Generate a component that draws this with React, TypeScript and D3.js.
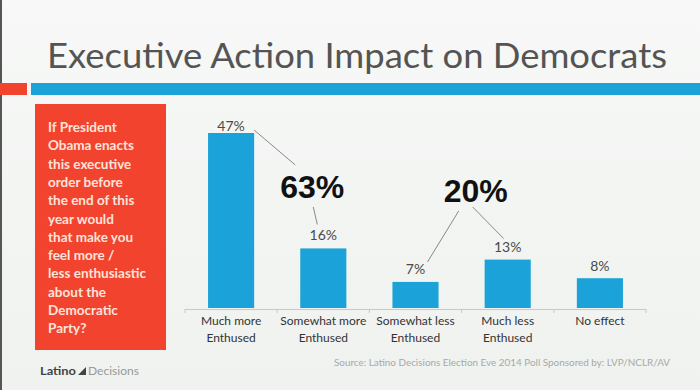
import React from "react";
import * as d3 from "d3";

const categories = [
  ["Much more", "Enthused"],
  ["Somewhat more", "Enthused"],
  ["Somewhat less", "Enthused"],
  ["Much less", "Enthused"],
  ["No effect", ""],
];
const values = [47, 16, 7, 13, 8];
const valueLabels = ["47%", "16%", "7%", "13%", "8%"];
const groupLabels = ["63%", "20%"];
const questionLines = [
  "If President",
  "Obama enacts",
  "this executive",
  "order before",
  "the end of this",
  "year would",
  "that make you",
  "feel more /",
  "less enthusiastic",
  "about the",
  "Democratic",
  "Party?",
];
const title = "Executive Action Impact on Democrats";
const source = "Source: Latino Decisions Election Eve 2014 Poll Sponsored by: LVP/NCLR/AV";

const W = 700;
const H = 390;
const BLUE = "#1ba2d8";
const RED = "#f2432f";
const FONT = "Lato, 'Open Sans', sans-serif";

export default function App() {
  const keys = categories.map((c, i) => String(i));
  const x = d3.scaleBand<string>().domain(keys).range([185, 646]).paddingInner(0.5).paddingOuter(0.25);
  const y = d3.scaleLinear().domain([0, 47]).range([308, 133]);
  const cx = (i: number) => (x(String(i)) as number) + x.bandwidth() / 2;
  const tickXs = d3.range(categories.length + 1).map((i) => 185 + i * x.step());
  const labelOffsets = [2, 8, 8, 8, 7];

  const g1x = cx(1) - 11;
  const g1y = 198;
  const g2x = cx(3) - 32;
  const g2y = 202;

  return (
    <svg width={W} height={H} style={{ position: "absolute", left: 0, top: 0, display: "block" }}>
      <defs>
        <linearGradient id="bg" x1="0" y1="0" x2="0" y2="1">
          <stop offset="0" stopColor="#f7f8f7" />
          <stop offset="1" stopColor="#eff2ef" />
        </linearGradient>
      </defs>
      <rect x={0} y={0} width={W} height={H} fill="url(#bg)" />
      <rect x={0} y={0} width={2} height={H} fill="#555" />

      <text x={47} y={68} fontFamily={FONT} fontSize={35} fill="#545454" textLength={620} lengthAdjust="spacingAndGlyphs">
        {title}
      </text>
      <rect x={0} y={83} width={27} height={12} fill={RED} />
      <rect x={31} y={83} width={W - 31} height={12} fill={BLUE} />

      <rect x={35} y={104} width={131} height={246} fill={RED} />
      {questionLines.map((l, i) => (
        <text key={i} x={48} y={132 + i * 18.3} fontFamily={FONT} fontWeight={700} fontSize={13.5} fill="#fde3da">
          {l}
        </text>
      ))}

      {values.map((v, i) => (
        <rect key={i} x={x(String(i))} y={y(v)} width={x.bandwidth()} height={y(0) - y(v)} fill={BLUE} />
      ))}
      {values.map((v, i) => (
        <text key={"l" + i} x={cx(i)} y={y(v) - labelOffsets[i]} textAnchor="middle" fontFamily={FONT} fontSize={14} fill="#4a4a4a">
          {valueLabels[i]}
        </text>
      ))}

      <line x1={185} x2={646} y1={309.5} y2={309.5} stroke="#c8c8c8" strokeWidth={1} />
      {tickXs.map((t, i) => (
        <line key={i} x1={t} x2={t} y1={309} y2={313} stroke="#c8c8c8" />
      ))}
      {categories.map((c, i) => (
        <g key={"c" + i}>
          <text x={cx(i)} y={325} textAnchor="middle" fontFamily={FONT} fontSize={12} fill="#333">
            {c[0]}
          </text>
          <text x={cx(i)} y={342} textAnchor="middle" fontFamily={FONT} fontSize={12} fill="#333">
            {c[1]}
          </text>
        </g>
      ))}

      <text x={g1x} y={g1y} textAnchor="middle" fontFamily="'Liberation Sans', Arial, sans-serif" fontWeight={700} fontSize={32} fill="#111">
        {groupLabels[0]}
      </text>
      <text x={g2x} y={g2y} textAnchor="middle" fontFamily="'Liberation Sans', Arial, sans-serif" fontWeight={700} fontSize={32} fill="#111">
        {groupLabels[1]}
      </text>
      <g stroke="#888" strokeWidth={1}>
        <line x1={cx(0) + 23} y1={y(values[0]) - 3} x2={g1x - 17} y2={g1y - 33} />
        <line x1={g1x + 1} y1={g1y + 9} x2={cx(1) - 6} y2={y(values[1]) - 24} />
        <line x1={g2x - 17} y1={g2y + 9} x2={cx(2) + 12} y2={y(values[2]) - 20} />
        <line x1={g2x - 3} y1={g2y + 5} x2={cx(3) - 4} y2={y(values[3]) - 21} />
      </g>

      <text x={334} y={366} fontFamily={FONT} fontSize={8.5} fill="#a8a8a8" textLength={336} lengthAdjust="spacingAndGlyphs">
        {source}
      </text>

      <text x={40} y={375} fontFamily={FONT} fontSize={11.5} fontWeight={700} fill="#444" textLength={36} lengthAdjust="spacingAndGlyphs">
        Latino
      </text>
      <path d="M78,375 L86,367 L86,375 Z" fill="#444" />
      <text x={88} y={375} fontFamily={FONT} fontSize={11.5} fill="#999" textLength={51} lengthAdjust="spacingAndGlyphs">
        Decisions
      </text>
    </svg>
  );
}
